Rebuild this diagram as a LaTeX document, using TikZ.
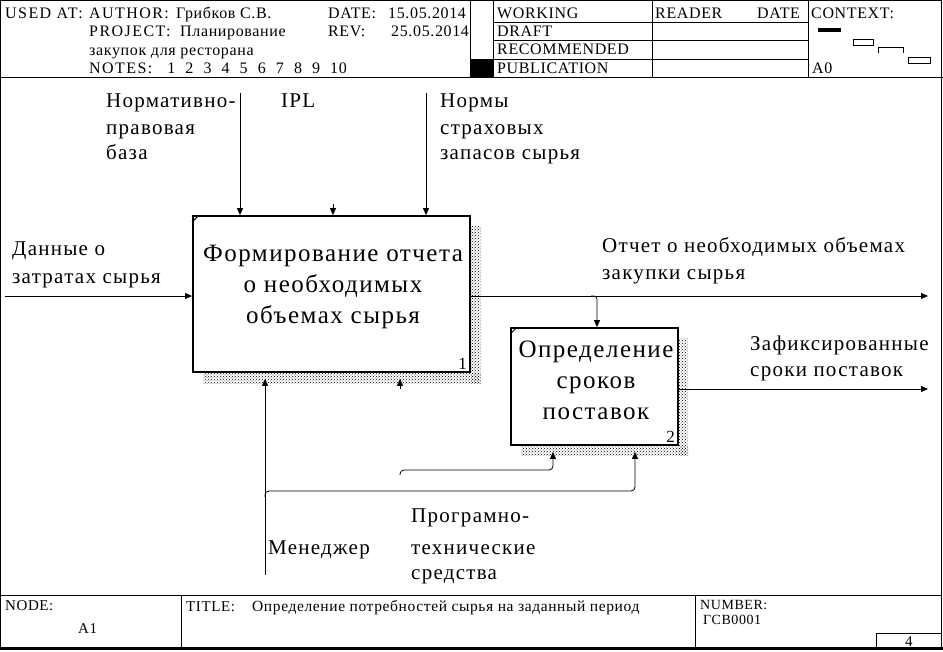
\documentclass[tikz,border=0pt]{standalone}
\usepackage{fontspec}
\setmainfont{Liberation Serif}
\newfontfamily\hdrf[LetterSpace=4]{Liberation Serif}
\newfontfamily\capf[LetterSpace=9]{Liberation Serif}
\newfontfamily\lblf[LetterSpace=6]{Liberation Serif}
\newfontfamily\boxf[LetterSpace=6]{Liberation Serif}
\newfontfamily\ftrf[LetterSpace=4]{Liberation Serif}
\usetikzlibrary{arrows.meta,patterns,calc}
\begin{document}
\begin{tikzpicture}[x=1pt,y=-1pt,
  hdr/.style={font=\hdrf\fontsize{16}{18}\selectfont, inner sep=0pt, anchor=base west},
  hcap/.style={font=\capf\fontsize{16}{18}\selectfont, inner sep=0pt, anchor=base west},
  lbl/.style={font=\lblf\fontsize{21}{24}\selectfont, inner sep=0pt, anchor=base west},
  boxtxt/.style={font=\boxf\fontsize{25}{31}\selectfont, inner sep=0pt, align=center, anchor=center},
  ftr/.style={font=\ftrf\fontsize{15}{18}\selectfont, inner sep=0pt, anchor=base west},
  procbox/.style={draw, line width=1.8pt, fill=white, inner sep=0pt},
  shadow/.style={pattern=crosshatch dots, pattern color=black},
  arr/.style={-{Triangle[length=7pt,width=6pt]}, line width=0.8pt},
  thin/.style={line width=0.8pt}
]
\useasboundingbox (0,0) rectangle (943,651);
\fill[white] (0,0) rectangle (943,651);

% frame
\draw[thin] (0.5,648) -- (0.5,0.5) -- (941.5,0.5) -- (941.5,648);
\draw[line width=2.4pt] (0,648.5) -- (943,648.5);
\draw[thin] (0,77) -- (943,77);
\draw[thin] (0,595) -- (941.5,595);

% header grid
\draw[thin] (470,0) -- (470,77);
\draw[thin] (493,0) -- (493,77);
\draw[thin] (652,0) -- (652,77);
\draw[thin] (808,0) -- (808,77);
\foreach \yy in {22,40,59} \draw[thin] (493,\yy) -- (808,\yy);
\fill (470,59) rectangle (493,77);

% header texts
\node[hcap] (usedat) at (5,18) {USED AT:};
\node[hcap] (author) at (89,18) {AUTHOR:};
\node[hdr] (authorv) at (176,18) {Грибков С.В.};
\node[hdr] (date) at (328,18) {DATE:};
\node[hdr] (datev) at (388,18) {15.05.2014};
\node[hcap] (project) at (89,36) {PROJECT:};
\node[hdr] (projectv) at (180,36) {Планирование};
\node[hdr] (rev) at (328,36) {REV:};
\node[hdr] (revv) at (391,36) {25.05.2014};
\node[hdr] (projectv2) at (89,55) {закупок для ресторана};
\node[hcap] (notes) at (89,73) {NOTES:};
\foreach \n [count=\i] in {1,...,10} \node[hdr] (nt\i) at (149+18.1*\i,73) {\n};
\node[hdr] (working) at (497,18) {WORKING};
\node[hdr] (draft) at (497,36) {DRAFT};
\node[hdr] (recom) at (497,54) {RECOMMENDED};
\node[hdr] (publ) at (497,73) {PUBLICATION};
\node[hdr] (reader) at (655,18) {READER};
\node[hdr] (rdate) at (757,18) {DATE};
\node[hdr] (context) at (811,18) {CONTEXT:};
\node[hdr] (a0) at (812,73) {A0};
% context mini diagram
\fill (818,28) rectangle (841,32);
\draw[thin] (853,39) rectangle (873,45);
\draw[thin] (878,53) -- (878,47) -- (903,47) -- (903,53);
\draw[thin] (908,57) rectangle (930,63);

% shadows
\fill[shadow] (471,226) rectangle (481,383);
\fill[shadow] (203,373) rectangle (481,383);
\fill[shadow] (679,338) rectangle (688,455);
\fill[shadow] (521,446) rectangle (688,455);

% boxes
\node[procbox, minimum width=277pt, minimum height=156pt] (b1) at (331.5,294) {};
\node[procbox, minimum width=167pt, minimum height=117pt] (b2) at (594.5,386.5) {};
\draw[line width=1pt] ($(b1.north west)+(0,7)$) -- ($(b1.north west)+(7,0)$);
\draw[line width=1pt] ($(b2.north west)+(0,7)$) -- ($(b2.north west)+(7,0)$);
\node[boxtxt] (b1t) at (333,287) {Формирование отчета\\о необходимых\\объемах сырья};
\node[boxtxt] (b2t) at (596,380) {Определение\\сроков\\поставок};
\node[hdr, anchor=base east, font=\hdrf\fontsize{17}{18}\selectfont] (b1n) at (467,369) {1};
\node[hdr, anchor=base east, font=\hdrf\fontsize{17}{18}\selectfont] (b2n) at (675,442) {2};

% input
\coordinate (in1) at (5,296);
\draw[arr] (in1) -- (in1 -| b1.west);
\node[lbl] (lin1a) at (12,255) {Данные о};
\node[lbl] (lin1b) at (12,283) {затратах сырья};

% controls
\coordinate (c1) at (240,93);
\coordinate (c2) at (333,204);
\coordinate (c3) at (426,93);
\draw[arr] (c1) -- (c1 |- b1.north);
\draw[arr] (c2) -- (c2 |- b1.north);
\draw[arr] (c3) -- (c3 |- b1.north);
\node[lbl] (lc1a) at (106,107) {Нормативно-};
\node[lbl] (lc1b) at (106,134) {правовая};
\node[lbl] (lc1c) at (106,159) {база};
\node[lbl] (lc2) at (281,107) {IPL};
\node[lbl] (lc3a) at (440,107) {Нормы};
\node[lbl] (lc3b) at (440,134) {страховых};
\node[lbl] (lc3c) at (440,159) {запасов сырья};

% outputs
\coordinate (o1) at (928,296);
\draw[arr] (o1 -| b1.east) -- (o1);
\coordinate (br1) at (597,296);
\draw[arr, rounded corners=3pt] ($(br1)+(-6,0)$) -- (br1) -- (br1 |- b2.north);
\node[lbl] (lo1a) at (602,252) {Отчет о необходимых объемах};
\node[lbl] (lo1b) at (602,279) {закупки сырья};
\coordinate (o2) at (928,389);
\draw[arr] (o2 -| b2.east) -- (o2);
\node[lbl] (lo2a) at (750,350) {Зафиксированные};
\node[lbl] (lo2b) at (750,376) {сроки поставок};

% mechanisms
\coordinate (m1) at (265,575);
\coordinate (m1t) at ($(m1 |- b1.south)+(0,6)$);
\draw[arr] (m1) -- (m1t);
\coordinate (mb) at (265,491);
\coordinate (m2) at (635,491);
\coordinate (m2t) at ($(m2 |- b2.south)+(0,6)$);
\draw[arr, rounded corners=4pt] ($(mb)+(0,6)$) -- (mb) -- (m2) -- (m2t);
\coordinate (p1) at (400,470);
\coordinate (p2) at (553,470);
\coordinate (p2t) at ($(p2 |- b2.south)+(0,6)$);
\draw[arr, rounded corners=4pt] ($(p1)+(0,5)$) -- (p1) -- (p2) -- (p2t);
\coordinate (p3) at (400,389);
\coordinate (p3t) at ($(p3 |- b1.south)+(0,6)$);
\draw[arr] (p3) -- (p3t);
\node[lbl] (lm1) at (268,554) {Менеджер};
\node[lbl] (lm2a) at (411,522) {Програмно-};
\node[lbl] (lm2b) at (411,554) {технические};
\node[lbl] (lm2c) at (411,579) {средства};

% footer
\draw[thin] (181,595) -- (181,648);
\draw[thin] (695,595) -- (695,648);
\draw[thin] (876,650) -- (876,633) -- (941.5,633);
\node[ftr] (fnode) at (5,610) {NODE:};
\node[ftr] (fa1) at (78,633) {A1};
\node[ftr] (ftitle) at (186,611) {TITLE:};
\node[ftr, font=\ftrf\fontsize{15.5}{18}\selectfont] (ftitlev) at (252,611) {Определение потребностей сырья на заданный период};
\node[ftr, font=\ftrf\fontsize{14}{16}\selectfont] (fnum) at (700,609) {NUMBER:};
\node[ftr, font=\ftrf\fontsize{14}{16}\selectfont] (fnumv) at (703,624) {ГСВ0001};
\node[ftr] (fpage) at (905,646) {4};
\end{tikzpicture}
\end{document}
